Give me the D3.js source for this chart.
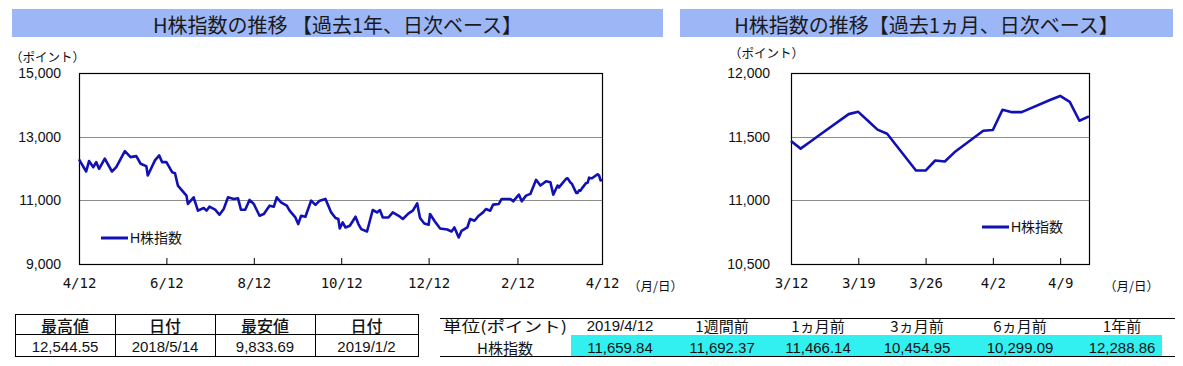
<!DOCTYPE html>
<html><head><meta charset="utf-8">
<script src="https://cdn.jsdelivr.net/npm/d3@7"></script>
<style>body{margin:0;background:#fff} svg{display:block}</style>
</head><body>
<svg id="c" width="1183" height="366"></svg>
<script>
// ---- data ----
const yearDates = ["2018-04-12","2018-04-17","2018-04-19","2018-04-22","2018-04-24","2018-04-26","2018-04-30","2018-05-05","2018-05-08","2018-05-14","2018-05-18","2018-05-22","2018-05-25","2018-05-29","2018-05-30","2018-06-04","2018-06-07","2018-06-09","2018-06-12","2018-06-16","2018-06-18","2018-06-20","2018-06-23","2018-06-26","2018-06-27","2018-07-01","2018-07-04","2018-07-08","2018-07-10","2018-07-12","2018-07-16","2018-07-19","2018-07-22","2018-07-25","2018-07-29","2018-08-01","2018-08-03","2018-08-06","2018-08-09","2018-08-12","2018-08-16","2018-08-19","2018-08-23","2018-08-26","2018-08-28","2018-08-31","2018-09-04","2018-09-06","2018-09-10","2018-09-12","2018-09-14","2018-09-17","2018-09-21","2018-09-24","2018-09-27","2018-10-01","2018-10-05","2018-10-08","2018-10-10","2018-10-11","2018-10-13","2018-10-15","2018-10-18","2018-10-22","2018-10-24","2018-10-26","2018-10-30","2018-11-03","2018-11-06","2018-11-08","2018-11-10","2018-11-14","2018-11-17","2018-11-22","2018-11-24","2018-11-28","2018-12-01","2018-12-04","2018-12-06","2018-12-09","2018-12-12","2018-12-13","2018-12-16","2018-12-20","2018-12-25","2018-12-28","2018-12-30","2019-01-02","2019-01-04","2019-01-08","2019-01-10","2019-01-13","2019-01-16","2019-01-19","2019-01-21","2019-01-24","2019-01-26","2019-01-30","2019-02-01","2019-02-07","2019-02-09","2019-02-13","2019-02-15","2019-02-18","2019-02-21","2019-02-25","2019-02-28","2019-03-04","2019-03-07","2019-03-09"];
const yearValues = [12289,11906,12232,12042,12200,11990,12307,11906,12042,12545,12358,12389,12149,12074,11780,12254,12411,12200,12200,11884,11853,11464,11306,11148,10886,11095,10675,10760,10675,10801,10706,10548,10728,11095,11044,11063,10706,10706,11013,10886,10517,10570,10833,10801,11095,10937,10833,10675,10463,10254,10517,10485,10990,10855,10990,11044,10621,10444,10413,10116,10305,10147,10201,10485,10254,10097,10021,10696,10621,10696,10463,10463,10621,10485,10413,10590,10675,10905,10444,10274,10233,10570,10359,10116,10084,10021,10147,9834,10043,10147,10413,10359,10517,10621,10728,10675,10864,10886,11044,11044,10969,11180,10969,11148,11202,11644,11464,11600,11568,11180];
const monthDates = ["2019-03-12","2019-03-13","2019-03-14","2019-03-15","2019-03-18","2019-03-19","2019-03-20","2019-03-21","2019-03-22","2019-03-25","2019-03-26","2019-03-27","2019-03-28","2019-03-29","2019-04-01","2019-04-02","2019-04-03","2019-04-04","2019-04-05","2019-04-08","2019-04-09","2019-04-10","2019-04-11","2019-04-12"];
const monthValues = [11466.14,11406,11460,11515,11677,11695,11625,11555,11523,11234,11234,11313,11305,11377,11547,11552,11711,11692.37,11692.37,11790,11820,11773,11625,11659.84];

const yearXDomain = ["2018-04-12","2019-04-12"];
const yearTicks = ["2018-04-12","2018-06-12","2018-08-12","2018-10-12","2018-12-12","2019-02-12","2019-04-12"];
const yearTickLabels = ["4/12","6/12","8/12","10/12","12/12","2/12","4/12"];
const yearYTicks = [9000,11000,13000,15000];
const monthXDomain = ["2019-03-12","2019-04-12"];
const monthTicks = ["2019-03-12","2019-03-19","2019-03-26","2019-04-02","2019-04-09"];
const monthTickLabels = ["3/12","3/19","3/26","4/2","4/9"];
const monthYTicks = [10500,11000,11500,12000];

const titles = ["H株指数の推移 【過去1年、日次ベース】","H株指数の推移【過去1ヵ月、日次ベース】"];
const seriesName = "H株指数";
const statHeaders = ["最高値","日付","最安値","日付"];
const statValues = ["12,544.55","2018/5/14","9,833.69","2019/1/2"];
const periodHeaders = ["単位(ポイント)","2019/4/12","1週間前","1ヵ月前","3ヵ月前","6ヵ月前","1年前"];
const periodValues = [11659.84,11692.37,11466.14,10454.95,10299.09,12288.86];

// ---- drawing ----
const parse = d3.timeParse("%Y-%m-%d");
const svg = d3.select("#c");
const LINE = "#1111b5";
const TITLE_BG = "#9cb6f6";
const SANS = "'Liberation Sans','Noto Sans CJK JP',sans-serif";
const CJK = "'Noto Sans CJK JP','Liberation Sans',sans-serif";
const MONO = "'DejaVu Sans Mono','Noto Sans CJK JP',monospace";

// year series continues with the daily values of the last month
const yearSeries = yearDates.map((d,i)=>({date:parse(d),value:yearValues[i]}))
  .concat(monthDates.map((d,i)=>({date:parse(d),value:monthValues[i]})));
const monthSeries = monthDates.map((d,i)=>({date:parse(d),value:monthValues[i]}));

function chart(cfg){
  const g = svg.append("g");
  g.append("rect").attr("x",cfg.bar[0]).attr("y",9).attr("width",cfg.bar[1]-cfg.bar[0]).attr("height",28).attr("fill",TITLE_BG);
  g.append("text").attr("x",(cfg.bar[0]+cfg.bar[1])/2).attr("y",24).attr("text-anchor","middle")
    .attr("dominant-baseline","central").attr("font-family",CJK).attr("font-size",20).attr("fill","#1a1a1a").text(cfg.title);
  const x = d3.scaleTime().domain(cfg.xDomain.map(parse)).range([cfg.left,cfg.right]);
  const y = d3.scaleLinear().domain(cfg.yDomain).range([cfg.bottom,cfg.top]);
  g.append("g").selectAll("line").data(cfg.yTicks.filter(v=>v>cfg.yDomain[0]&&v<cfg.yDomain[1])).join("line")
    .attr("x1",cfg.left).attr("x2",cfg.right).attr("y1",d=>Math.round(y(d))+0.5).attr("y2",d=>Math.round(y(d))+0.5)
    .attr("stroke","#8c8c8c").attr("stroke-width",1);
  const ya = g.append("g").attr("transform",`translate(${cfg.left},0)`)
    .call(d3.axisLeft(y).tickValues(cfg.yTicks).tickSize(0).tickPadding(cfg.yPad).tickFormat(d3.format(",")));
  ya.select(".domain").remove();
  ya.selectAll("text").attr("font-family",SANS).attr("font-size",14).attr("fill","#111");
  const xa = g.append("g").attr("transform",`translate(0,${cfg.bottom})`)
    .call(d3.axisBottom(x).tickValues(cfg.xTicks.map(parse)).tickSize(-6).tickPadding(14)
      .tickFormat((d,i)=>cfg.xLabels[i]));
  xa.select(".domain").remove();
  xa.selectAll("line").attr("stroke","#000");
  xa.selectAll("text").attr("font-family",MONO).attr("font-size",14).attr("fill","#111");
  g.append("rect").attr("x",cfg.left+0.5).attr("y",cfg.top+0.5).attr("width",cfg.right-cfg.left).attr("height",cfg.bottom-cfg.top)
    .attr("fill","none").attr("stroke","#000").attr("stroke-width",1.2);
  g.append("path").datum(cfg.series).attr("fill","none").attr("stroke",LINE).attr("stroke-width",2.6)
    .attr("stroke-linejoin","round")
    .attr("d",d3.line().x(d=>x(d.date)).y(d=>y(d.value)));
  g.append("text").attr("x",cfg.unitX).attr("y",cfg.unitY).attr("dominant-baseline","central").attr("font-family",CJK)
    .attr("font-size",12.5).attr("fill","#111").text("（ポイント）");
  g.append("text").attr("x",cfg.mdX).attr("y",285).attr("dominant-baseline","central").attr("font-family",CJK)
    .attr("font-size",12.5).attr("fill","#111").text("（月/日）");
  g.append("line").attr("x1",cfg.leg[0]).attr("x2",cfg.leg[0]+27).attr("y1",cfg.leg[1]).attr("y2",cfg.leg[1])
    .attr("stroke",LINE).attr("stroke-width",3);
  g.append("text").attr("x",cfg.leg[0]+29).attr("y",cfg.leg[1]).attr("dominant-baseline","central")
    .attr("font-family",SANS).attr("font-size",14).attr("fill","#111").text(seriesName);
}

chart({bar:[12,663],title:titles[0],xDomain:yearXDomain,yDomain:[9000,15000],left:79,right:602,top:73,bottom:264,
  yTicks:yearYTicks,yPad:18,xTicks:yearTicks,xLabels:yearTickLabels,series:yearSeries,unitX:10,unitY:56,mdX:628,leg:[101,238]});
chart({bar:[680,1173],title:titles[1],xDomain:monthXDomain,yDomain:[10500,12000],left:791,right:1089,top:73,bottom:264,
  yTicks:monthYTicks,yPad:21,xTicks:monthTicks,xLabels:monthTickLabels,series:monthSeries,unitX:729,unitY:52,mdX:1104,leg:[982,227]});

// ---- left table ----
const t1 = svg.append("g");
const c1 = [15,115,215,315,418];
t1.append("rect").attr("x",15.5).attr("y",314.5).attr("width",403).attr("height",42).attr("fill","none").attr("stroke","#000");
t1.append("line").attr("x1",15).attr("x2",419).attr("y1",334.5).attr("y2",334.5).attr("stroke","#000");
c1.slice(1,4).forEach(v=>t1.append("line").attr("x1",v+0.5).attr("x2",v+0.5).attr("y1",314).attr("y2",357).attr("stroke","#000"));
statHeaders.forEach((h,i)=>t1.append("text").attr("x",(c1[i]+c1[i+1])/2).attr("y",325).attr("text-anchor","middle")
  .attr("dominant-baseline","central").attr("font-family",CJK).attr("font-size",16).attr("font-weight",500).attr("fill","#111").text(h));
statValues.forEach((h,i)=>t1.append("text").attr("x",(c1[i]+c1[i+1])/2).attr("y",346).attr("text-anchor","middle")
  .attr("dominant-baseline","central").attr("font-family",SANS).attr("font-size",15).attr("fill","#111").text(h));

// ---- right table ----
const t2 = svg.append("g");
const cx2 = [505,620,722,818,917,1020,1122];
t2.append("rect").attr("x",571).attr("y",335).attr("width",591).attr("height",21).attr("fill","#33f0f0");
t2.append("line").attr("x1",440).attr("x2",1175).attr("y1",318.5).attr("y2",318.5).attr("stroke","#000");
t2.append("line").attr("x1",440).attr("x2",1175).attr("y1",356.5).attr("y2",356.5).attr("stroke","#000");
periodHeaders.forEach((h,i)=>t2.append("text").attr("x",cx2[i]).attr("y",325).attr("text-anchor","middle")
  .attr("dominant-baseline","central").attr("font-family",i===1?SANS:CJK).attr("font-size",15).attr("fill","#111")
  .attr("textLength",i===0?124:null).attr("lengthAdjust","spacingAndGlyphs").text(h));
t2.append("text").attr("x",cx2[0]).attr("y",347).attr("text-anchor","middle").attr("dominant-baseline","central")
  .attr("font-family",CJK).attr("font-size",15).attr("fill","#111").text(seriesName);
periodValues.forEach((v,i)=>t2.append("text").attr("x",cx2[i+1]).attr("y",347).attr("text-anchor","middle")
  .attr("dominant-baseline","central").attr("font-family",SANS).attr("font-size",15).attr("fill","#111").text(d3.format(",.2f")(v)));
</script>
</body></html>
